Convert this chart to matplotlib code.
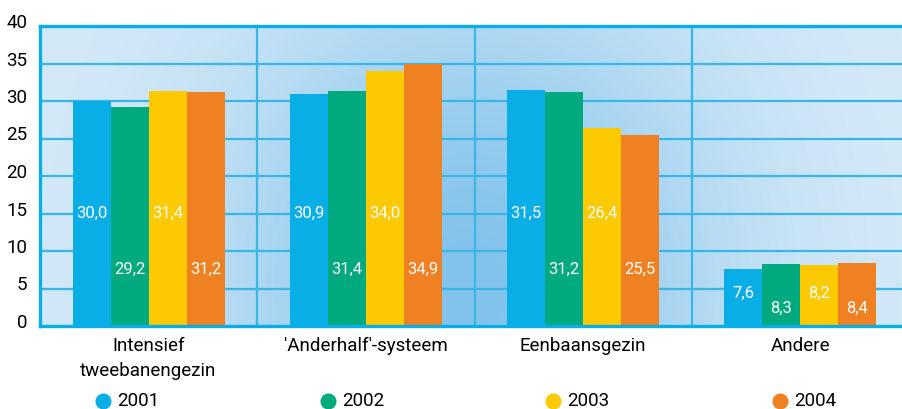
import matplotlib
matplotlib.use('Agg')
import matplotlib.pyplot as plt
import matplotlib.transforms as mtransforms
from matplotlib.lines import Line2D
import numpy as np

plt.rcParams['font.family'] = ['Roboto', 'DejaVu Sans']

# Data
categories = ["Intensief\ntweebanengezin", "'Anderhalf'-systeem", "Eenbaansgezin", "Andere"]
years = ['2001', '2002', '2003', '2004']
v2001 = [30.0, 30.9, 31.5, 7.6]
v2002 = [29.2, 31.4, 31.2, 8.3]
v2003 = [31.4, 34.0, 26.4, 8.2]
v2004 = [31.2, 34.9, 25.5, 8.4]
yticks = [0, 5, 10, 15, 20, 25, 30, 35, 40]

series = [v2001, v2002, v2003, v2004]
colors = ['#0aaee6', '#00a97e', '#fdc900', '#ef8122']
grid_col = '#3ab6e6'
edge_col = '#0aaee6'

W, H = 902, 409
fig = plt.figure(figsize=(W / 100, H / 100), dpi=100)
# plot area runs past the right edge of the image, like the original
ax = fig.add_axes([40 / W, (H - 326) / H, 869 / W, 300 / H])
ax.set_xlim(0, 4)
ax.set_ylim(0, 40)

# background glow
gx = np.linspace(0, 869, 400)
gy = np.linspace(0, 300, 150)
X, Y = np.meshgrid(gx, gy)
t = np.exp(-((X - 430) / 250) ** 2 - ((Y - 40) / 300) ** 2)
light = np.array([0xd6, 0xea, 0xf8]) / 255
dark = np.array([0x82, 0xc3, 0xeb]) / 255
img = light[None, None, :] * (1 - t[..., None]) + dark[None, None, :] * t[..., None]
ax.imshow(img, extent=[0, 4, 0, 40], origin='lower', aspect='auto', zorder=0,
          interpolation='bilinear')

# grid
for yv in yticks[1:-1]:
    ax.axhline(yv, color=grid_col, lw=1.6, zorder=1)
for xv in [1, 2, 3]:
    ax.axvline(xv, color=grid_col, lw=1.6, zorder=1)

# bars
bw = 0.175
centers = np.arange(len(categories)) + 0.5
for i, (vals, c) in enumerate(zip(series, colors)):
    xs = centers + (i - 1.5) * bw
    ax.bar(xs, vals, width=bw, color=c, zorder=2)
    for j, (x, v) in enumerate(zip(xs, vals)):
        if j < 3:
            ly = 15 if i % 2 == 0 else 7.5
        else:
            ly = 4.4 if i % 2 == 0 else 2.3
        ax.text(x, ly, f"{v:.1f}".replace('.', ','), ha='center', va='center',
                color='white', fontsize=12, zorder=3)

# spines
ax.spines['right'].set_visible(False)
for s in ['left', 'bottom', 'top']:
    ax.spines[s].set_color(edge_col)
    ax.spines[s].set_linewidth(2.4)
    ax.spines[s].set_zorder(4)

ax.set_yticks(yticks)
ax.set_yticklabels([str(v) for v in yticks], fontsize=13.5)
ax.tick_params(axis='y', length=0, pad=9)
shift = mtransforms.ScaledTranslation(0, 5 / 100, fig.dpi_scale_trans)
for lab in ax.get_yticklabels():
    lab.set_transform(lab.get_transform() + shift)

ax.set_xticks(centers)
ax.set_xticklabels(categories, fontsize=13.5, linespacing=1.5, va='top')
ax.tick_params(axis='x', length=0, pad=8)

# legend row
leg_x = [103, 328, 553, 780]
leg_y = 1 - 401 / H
for lx, yr, c in zip(leg_x, years, colors):
    fig.add_artist(Line2D([lx / W], [leg_y], marker='o', markersize=10.5, color=c,
                          linestyle='none', transform=fig.transFigure))
    fig.text((lx + 14) / W, leg_y, yr, fontsize=13.5, ha='left', va='center')

fig.savefig('out.png', dpi=100)
